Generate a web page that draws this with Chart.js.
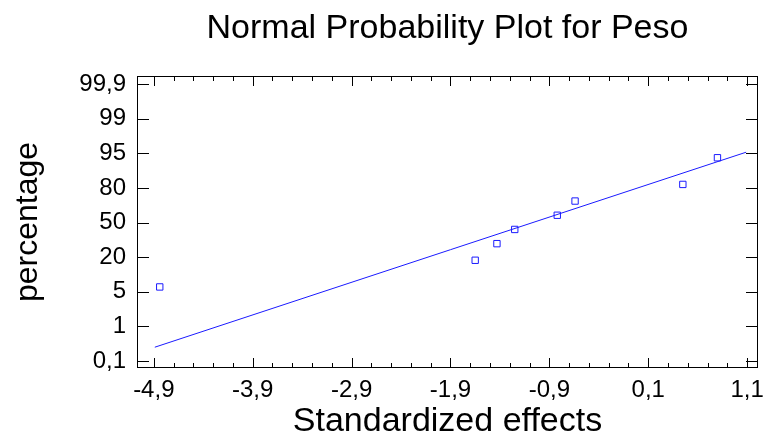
<!DOCTYPE html>
<html>
<head>
<meta charset="utf-8">
<script src="https://cdn.jsdelivr.net/npm/chart.js@4/dist/chart.umd.min.js"></script>
<style>
  body { margin: 0; background: #ffffff; }
  canvas { display: block; }
</style>
</head>
<body>
<canvas id="npp" width="766" height="444"></canvas>
<script>
// standardized effects (x) and their position on the probability scale (y, in tick steps)
var effectX = [-4.84, -1.65, -1.43, -1.25, -0.82, -0.64, 0.45, 0.80];
var probPos = [2.14, 2.91, 3.39, 3.80, 4.21, 4.62, 5.10, 5.87];

// fitted reference line
var fitX = [-4.89, 1.09];
var fitPos = [0.40, 6.03];

// tick labels
var xTicks = [-4.9, -3.9, -2.9, -1.9, -0.9, 0.1, 1.1];
var yTickLabels = ["0,1", "1", "5", "20", "50", "80", "95", "99", "99,9"];

var FONT = "'Liberation Sans', Arial, sans-serif";

function fmtComma(v) {
    return v.toFixed(1).replace(".", ",");
}

var pts = [];
for (var i = 0; i < effectX.length; i++) {
    pts.push({ x: effectX[i], y: probPos[i] });
}
var fitPts = [];
for (var j = 0; j < fitX.length; j++) {
    fitPts.push({ x: fitX[j], y: fitPos[j] });
}

// frame with inward tick marks, like the original plot
var frameTicks = {
    id: "frameTicks",
    afterDraw: function (chart) {
        var ctx = chart.ctx;
        var a = chart.chartArea;
        var xs = chart.scales.x;
        var ys = chart.scales.y;
        ctx.save();
        ctx.strokeStyle = "#000000";
        ctx.lineWidth = 1;
        ctx.strokeRect(a.left + 0.5, a.top + 0.5, a.right - a.left - 1, a.bottom - a.top - 1);

        ctx.beginPath();
        // x ticks: major every 1, minor every 0.2
        for (var k = 0; k <= 30; k++) {
            var v = -4.9 + k * 0.2;
            var px = Math.round(xs.getPixelForValue(v)) + 0.5;
            if (px < a.left || px > a.right) continue;
            var len = (k % 5 === 0) ? 10 : 5;
            ctx.moveTo(px, a.bottom);
            ctx.lineTo(px, a.bottom - len);
            ctx.moveTo(px, a.top);
            ctx.lineTo(px, a.top + len);
        }
        // y ticks on both sides
        for (var m = 0; m < yTickLabels.length; m++) {
            var py = Math.round(ys.getPixelForValue(m)) + 0.5;
            ctx.moveTo(a.left, py);
            ctx.lineTo(a.left + 12, py);
            ctx.moveTo(a.right, py);
            ctx.lineTo(a.right - 12, py);
        }
        ctx.stroke();
        ctx.restore();
    }
};

new Chart(document.getElementById("npp").getContext("2d"), {
    type: "scatter",
    data: {
        datasets: [
            {
                label: "effects",
                data: pts,
                pointStyle: "rect",
                radius: 4.5,
                borderColor: "#1a1aff",
                borderWidth: 1,
                backgroundColor: "rgba(0,0,0,0)"
            },
            {
                type: "line",
                label: "fit",
                data: fitPts,
                borderColor: "#1a1aff",
                borderWidth: 1,
                pointRadius: 0,
                fill: false
            }
        ]
    },
    options: {
        responsive: false,
        animation: false,
        layout: { padding: { left: 0, right: 8, top: 0, bottom: 0 } },
        plugins: {
            legend: { display: false },
            tooltip: { enabled: false },
            title: {
                display: true,
                fullSize: false,
                text: "Normal Probability Plot for Peso",
                color: "#000000",
                font: { family: FONT, size: 34, weight: "normal", lineHeight: 1 },
                padding: { top: 12, bottom: 30 }
            }
        },
        scales: {
            x: {
                type: "linear",
                min: -5.07,
                max: 1.21,
                grid: { display: false, drawTicks: false },
                border: { display: false },
                afterBuildTicks: function (scale) {
                    scale.ticks = xTicks.map(function (v) { return { value: v }; });
                },
                afterFit: function (scale) {
                    scale.height = 76;
                    scale.paddingLeft = 0;
                    scale.paddingRight = 0;
                },
                ticks: {
                    color: "#000000",
                    padding: 8,
                    maxRotation: 0,
                    font: { family: FONT, size: 24 },
                    callback: function (v) { return fmtComma(v); }
                },
                title: {
                    display: true,
                    text: "Standardized effects",
                    color: "#000000",
                    font: { family: FONT, size: 34, lineHeight: 1 },
                    padding: { top: 0, bottom: 5 }
                }
            },
            y: {
                type: "linear",
                min: -0.2,
                max: 8.23,
                grid: { display: false, drawTicks: false },
                border: { display: false },
                afterBuildTicks: function (scale) {
                    var t = [];
                    for (var n = 0; n < yTickLabels.length; n++) t.push({ value: n });
                    scale.ticks = t;
                },
                afterFit: function (scale) {
                    scale.width = 137;
                },
                ticks: {
                    color: "#000000",
                    padding: 11,
                    font: { family: FONT, size: 24 },
                    callback: function (v) { return yTickLabels[v]; }
                },
                title: {
                    display: true,
                    text: "percentage",
                    color: "#000000",
                    font: { family: FONT, size: 32, lineHeight: 1 },
                    padding: { top: 12, bottom: 0 }
                }
            }
        }
    },
    plugins: [frameTicks]
});
</script>
</body>
</html>
